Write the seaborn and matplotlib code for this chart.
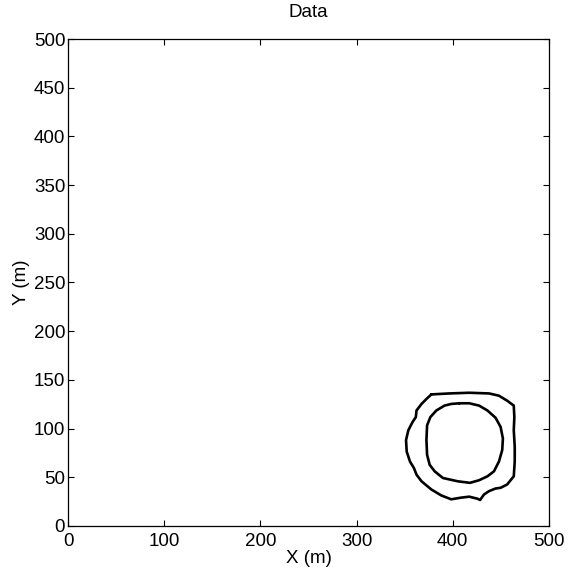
import numpy as np
import pandas as pd
import seaborn as sns
import matplotlib
matplotlib.use("Agg")
import matplotlib.pyplot as plt

# outer contour (clockwise from top-left), closed
outer_x = [377.7, 396.6, 417.1, 437.7, 447.9, 456.5, 463.4, 464.0, 463.4, 464.4,
           464.4, 463.4, 456.5, 449.7, 444.5, 437.7, 432.5, 428.4, 425.7, 417.1,
           408.6, 398.3, 388.0, 377.7, 367.5, 362.3, 359.6, 355.5, 352.1, 351.4,
           353.8, 358.2, 361.6, 362.3, 367.5, 372.6, 377.7]
outer_y = [135.1, 136.1, 136.8, 136.1, 133.8, 128.7, 123.6, 111.8, 98.3, 81.4,
           66.2, 51.0, 42.6, 39.2, 38.5, 35.8, 32.4, 26.7, 28.0, 30.1,
           29.1, 27.4, 31.4, 37.5, 45.9, 52.7, 59.5, 66.2, 76.4, 88.2,
           98.3, 106.8, 111.8, 118.6, 125.3, 130.4, 135.1]

# inner contour, closed
inner_x = [406.8, 417.1, 427.4, 436.0, 444.5, 449.7, 452.1, 451.4, 448.0, 442.8,
           436.0, 427.4, 417.8, 405.1, 389.7, 381.2, 376.0, 373.3, 372.6, 373.3,
           376.7, 382.9, 391.4, 398.3, 406.8]
inner_y = [126.0, 126.0, 123.6, 118.6, 111.1, 101.7, 89.9, 78.0, 66.2, 56.1,
           51.0, 47.0, 44.3, 45.9, 49.3, 56.1, 62.8, 73.0, 88.2, 103.4,
           111.8, 118.6, 123.6, 125.3, 126.0]

df = pd.concat([
    pd.DataFrame({"x": outer_x, "y": outer_y, "c": "outer"}),
    pd.DataFrame({"x": inner_x, "y": inner_y, "c": "inner"}),
])

sns.set_style("ticks")
plt.rcParams["font.family"] = ["Liberation Sans", "DejaVu Sans"]
plt.rcParams["text.color"] = "black"
plt.rcParams["axes.labelcolor"] = "black"
plt.rcParams["axes.edgecolor"] = "black"
plt.rcParams["xtick.color"] = "black"
plt.rcParams["ytick.color"] = "black"
plt.rcParams["xtick.direction"] = "in"
plt.rcParams["ytick.direction"] = "in"

fs = 13.5
fig = plt.figure(figsize=(5.74, 5.77), dpi=100)
ax = fig.add_axes([0.1185, 0.0884, 0.8379, 0.8440])

sns.lineplot(data=df, x="x", y="y", units="c", estimator=None, sort=False,
             color="black", linewidth=1.9, ax=ax)

ax.set_xlim(0, 500)
ax.set_ylim(0, 500)
ax.set_xticks(np.arange(0, 501, 100))
ax.set_yticks(np.arange(0, 501, 50))
ax.tick_params(top=True, right=True, length=4, width=0.8, labelsize=fs)
ax.tick_params(axis="x", pad=5)
ax.tick_params(axis="y", pad=2)
for s in ax.spines.values():
    s.set_visible(True)
    s.set_linewidth(0.9)
ax.set_xlabel("X (m)", fontsize=fs, labelpad=0)
ax.set_ylabel("Y (m)", fontsize=fs, labelpad=3)
ax.set_title("Data", fontsize=fs, pad=16)

fig.savefig("out.png", dpi=100)
plt.close()
